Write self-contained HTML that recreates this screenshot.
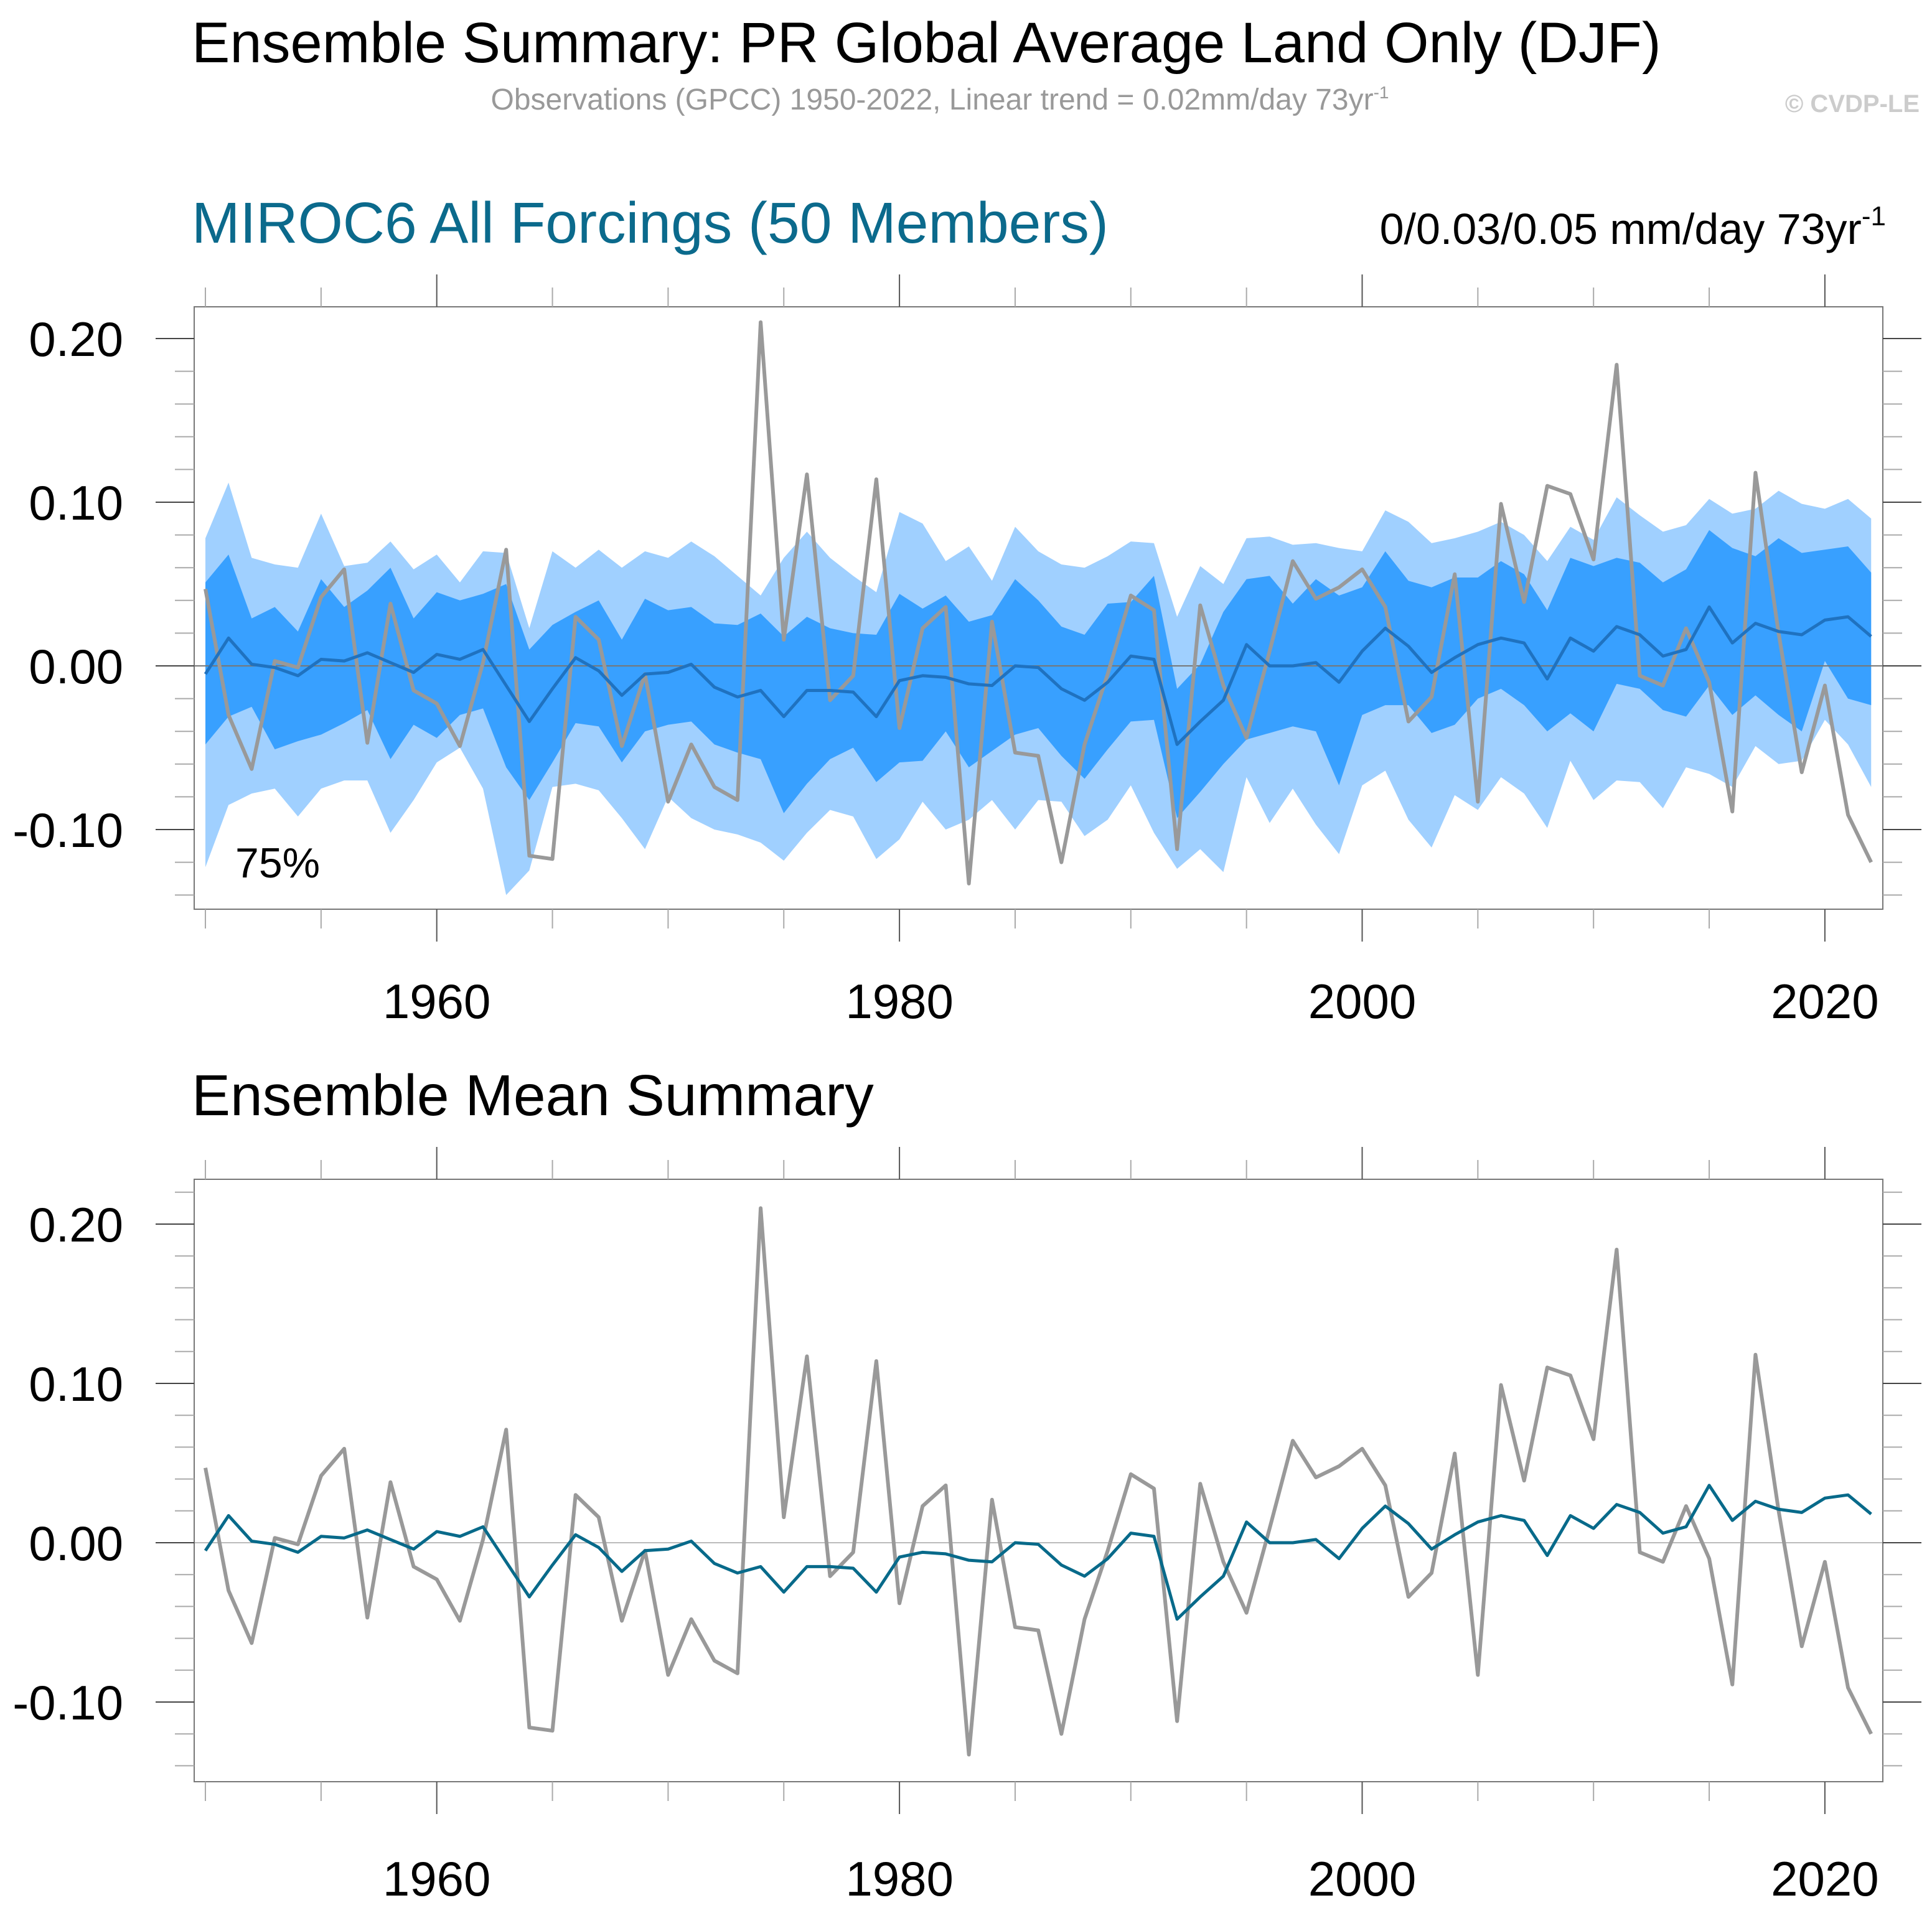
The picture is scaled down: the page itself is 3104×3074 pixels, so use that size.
<!DOCTYPE html>
<html><head><meta charset="utf-8"><style>
html,body{margin:0;padding:0;background:#fff}
svg{display:block;font-family:"Liberation Sans",sans-serif}
</style></head><body>
<svg id="chart" width="3104" height="3074" viewBox="0 0 3104 3074" xmlns="http://www.w3.org/2000/svg">
<text x="308" y="100" font-size="92">Ensemble Summary: PR Global Average Land Only (DJF)</text>
<text x="1510" y="176" font-size="48" fill="#999" text-anchor="middle">Observations (GPCC) 1950-2022, Linear trend = 0.02mm/day 73yr<tspan font-size="28" dy="-18">-1</tspan></text>
<text x="3084" y="180" font-size="40" fill="#ccc" font-weight="bold" text-anchor="end">© CVDP-LE</text>
<text x="308" y="390" font-size="93" fill="#0b6a8c">MIROC6 All Forcings (50 Members)</text>
<text x="3030" y="392" font-size="70" text-anchor="end">0/0.03/0.05 mm/day 73yr<tspan font-size="44" dy="-30">-1</tspan></text>
<text x="308" y="1792" font-size="93">Ensemble Mean Summary</text>
<g id="p1"></g>
<g id="p2"></g>
</svg>
<script>
const years = []; for (let y = 1950; y <= 2022; y++) years.push(y);
const obs = [0.047,-0.030,-0.063,0.003,-0.001,0.042,0.059,-0.047,0.038,-0.015,-0.023,-0.049,0.002,0.071,-0.116,-0.118,0.030,0.016,-0.049,-0.005,-0.083,-0.048,-0.074,-0.082,0.210,0.016,0.117,-0.021,-0.006,0.114,-0.038,0.023,0.036,-0.133,0.027,-0.053,-0.055,-0.120,-0.048,-0.005,0.043,0.034,-0.112,0.037,-0.012,-0.044,0.009,0.064,0.041,0.048,0.059,0.036,-0.034,-0.019,0.056,-0.083,0.099,0.039,0.110,0.105,0.065,0.184,-0.006,-0.012,0.023,-0.010,-0.089,0.118,0.020,-0.065,-0.012,-0.091,-0.120];
const ensMean = [-0.005,0.017,0.001,-0.001,-0.006,0.004,0.003,0.008,0.002,-0.004,0.007,0.004,0.010,-0.012,-0.034,-0.014,0.005,-0.003,-0.018,-0.005,-0.004,0.001,-0.013,-0.019,-0.015,-0.031,-0.015,-0.015,-0.016,-0.031,-0.009,-0.006,-0.007,-0.011,-0.012,0.000,-0.001,-0.014,-0.021,-0.010,0.006,0.004,-0.048,-0.034,-0.021,0.013,0.000,0.000,0.002,-0.010,0.009,0.023,0.012,-0.004,0.005,0.013,0.017,0.014,-0.008,0.017,0.009,0.024,0.019,0.006,0.010,0.036,0.014,0.026,0.021,0.019,0.028,0.030,0.018];
const outerHi = [0.078,0.112,0.066,0.062,0.060,0.093,0.061,0.063,0.076,0.059,0.068,0.051,0.070,0.069,0.023,0.070,0.060,0.071,0.060,0.070,0.066,0.076,0.067,0.055,0.043,0.066,0.082,0.066,0.055,0.045,0.094,0.087,0.064,0.073,0.052,0.085,0.070,0.062,0.060,0.067,0.076,0.075,0.030,0.061,0.050,0.078,0.079,0.074,0.075,0.072,0.070,0.095,0.088,0.075,0.078,0.082,0.088,0.080,0.064,0.085,0.077,0.103,0.092,0.082,0.086,0.102,0.093,0.096,0.107,0.099,0.096,0.102,0.090];
const outerLo = [-0.123,-0.085,-0.078,-0.075,-0.092,-0.075,-0.070,-0.070,-0.102,-0.082,-0.059,-0.050,-0.075,-0.140,-0.125,-0.074,-0.072,-0.076,-0.093,-0.112,-0.080,-0.093,-0.100,-0.103,-0.108,-0.119,-0.102,-0.088,-0.092,-0.118,-0.106,-0.083,-0.100,-0.094,-0.082,-0.100,-0.082,-0.083,-0.104,-0.094,-0.073,-0.102,-0.124,-0.112,-0.126,-0.068,-0.096,-0.075,-0.097,-0.115,-0.073,-0.064,-0.094,-0.111,-0.079,-0.088,-0.068,-0.078,-0.099,-0.058,-0.082,-0.070,-0.071,-0.087,-0.062,-0.066,-0.074,-0.049,-0.060,-0.058,-0.033,-0.048,-0.074];
const innerHi = [0.051,0.068,0.029,0.036,0.021,0.053,0.036,0.046,0.060,0.029,0.045,0.040,0.044,0.050,0.010,0.025,0.033,0.040,0.016,0.041,0.034,0.036,0.026,0.025,0.032,0.018,0.030,0.023,0.020,0.019,0.044,0.035,0.043,0.027,0.031,0.053,0.040,0.024,0.019,0.038,0.039,0.055,-0.014,0.001,0.033,0.053,0.055,0.038,0.053,0.043,0.048,0.070,0.052,0.048,0.054,0.054,0.064,0.056,0.034,0.066,0.061,0.066,0.063,0.051,0.059,0.083,0.072,0.067,0.078,0.069,0.071,0.073,0.057];
const innerLo = [-0.048,-0.031,-0.025,-0.051,-0.046,-0.042,-0.035,-0.027,-0.057,-0.036,-0.044,-0.030,-0.026,-0.062,-0.082,-0.059,-0.035,-0.037,-0.059,-0.040,-0.036,-0.034,-0.048,-0.053,-0.057,-0.090,-0.072,-0.057,-0.050,-0.071,-0.059,-0.058,-0.040,-0.062,-0.052,-0.042,-0.038,-0.055,-0.069,-0.051,-0.034,-0.033,-0.093,-0.077,-0.060,-0.045,-0.041,-0.037,-0.040,-0.073,-0.030,-0.024,-0.024,-0.041,-0.036,-0.020,-0.014,-0.024,-0.040,-0.029,-0.040,-0.011,-0.014,-0.027,-0.031,-0.012,-0.030,-0.018,-0.030,-0.040,0.003,-0.020,-0.024];
const yTickVals = [-0.10, 0.00, 0.10, 0.20];
const yTickLabels = ["-0.10","0.00","0.10","0.20"];
const xTickYears = [1960, 1980, 2000, 2020];

const NS = "http://www.w3.org/2000/svg";
function mk(parent, tag, attrs) {
  const e = document.createElementNS(NS, tag);
  for (const k in attrs) e.setAttribute(k, attrs[k]);
  parent.appendChild(e); return e;
}
const L = 312, R = 3025;
const xs = y => 330 + (y - 1950) * 37.17;

function panel(g, top, bottom, zeroY, perUnit, opts) {
  const ys = v => zeroY - v * perUnit;
  const vMin = (zeroY - bottom) / perUnit, vMax = (zeroY - top) / perUnit;
  if (opts.bands) {
    const band = (hi, lo, col, name) => {
      let pts = years.map((y, i) => xs(y) + "," + ys(hi[i]));
      pts = pts.concat(years.slice().reverse().map((y, j) => xs(y) + "," + ys(lo[years.length - 1 - j])));
      const p = mk(g, "polygon", {points: pts.join(" "), fill: col});
      
      
    };
    band(outerHi, outerLo, "#a0d0ff", "outer-percentile-band");
    band(innerHi, innerLo, "#38a0ff", "inner-percentile-band");
  }
  const zl = mk(g, "line", {x1: L, x2: R, y1: ys(0), y2: ys(0), stroke: opts.bands ? "#777" : "#bbb", "stroke-width": 2});
  
  
  const line = (vals, col, w, name) => {
    const p = mk(g, "polyline", {points: years.map((y, i) => xs(y) + "," + ys(vals[i])).join(" "), fill: "none", stroke: col, "stroke-width": w, "stroke-linejoin": "round"});
    
    
  };
  line(obs, "#999", 6, "observations-line");
  line(ensMean, opts.meanColor, 5, "ensemble-mean-line");
  const fr = mk(g, "rect", {x: L, y: top, width: R - L, height: bottom - top, fill: "none", stroke: "#777", "stroke-width": 2});
  
  
  for (let k = -20; k <= 30; k++) {
    const v = k * 0.02; if (v < vMin || v > vMax) continue;
    const y = ys(v); const major = (k % 5) === 0;
    const len = major ? 62 : 31;
    const col = major ? "#444" : "#aaa";
    const t1 = mk(g, "line", {x1: L - len, x2: L, y1: y, y2: y, stroke: col, "stroke-width": 2});
    
    
    const t2 = mk(g, "line", {x1: R, x2: R + len, y1: y, y2: y, stroke: col, "stroke-width": 2});
    
    
  }
  yTickVals.forEach((v, i) => {
    const t = mk(g, "text", {x: 198, y: ys(v) + 28, "font-size": 78, "text-anchor": "end"});
    t.textContent = yTickLabels[i];
    
    
  });
  for (let yr = 1950; yr <= 2020; yr += 5) {
    const major = yr % 20 === 0; const len = major ? 52 : 31;
    const col = major ? "#555" : "#aaa";
    const a = mk(g, "line", {x1: xs(yr), x2: xs(yr), y1: top - len, y2: top, stroke: col, "stroke-width": 2});
    
    
    const b = mk(g, "line", {x1: xs(yr), x2: xs(yr), y1: bottom, y2: bottom + len, stroke: col, "stroke-width": 2});
    
    
  }
  xTickYears.forEach(yr => {
    const t = mk(g, "text", {x: xs(yr), y: opts.xLabelY, "font-size": 78, "text-anchor": "middle"});
    t.textContent = String(yr);
    
    
  });
}
panel(document.getElementById("p1"), 493, 1461, 1070, 2630, {bands: true, meanColor: "#1f72c0", xLabelY: 1636});
panel(document.getElementById("p2"), 1895, 2863, 2479, 2560, {bands: false, meanColor: "#086a8a", xLabelY: 3046});
const pct = mk(document.getElementById("p1"), "text", {x: 378, y: 1410, "font-size": 68});
pct.textContent = "75%";


</script>
</body></html>
